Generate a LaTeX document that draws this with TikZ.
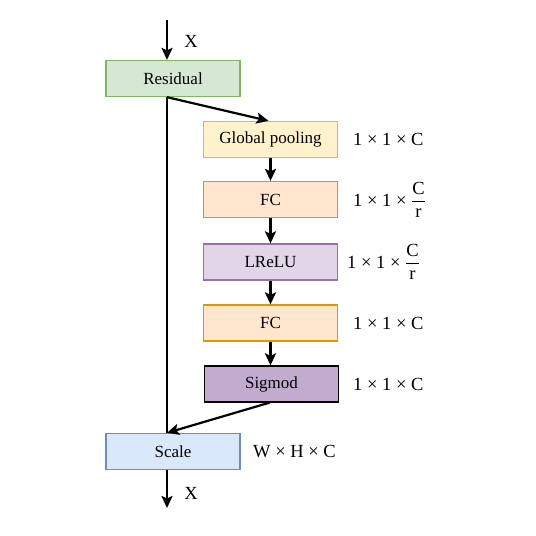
\documentclass[tikz,border=0pt]{standalone}
\usepackage{amsmath}
\usepackage{fontspec}
\setmainfont{Liberation Serif}
\usetikzlibrary{arrows.meta}
\definecolor{gfill}{HTML}{D5E8D4}\definecolor{gdraw}{HTML}{82B366}
\definecolor{yfill}{HTML}{FFF2CC}\definecolor{ydraw}{HTML}{D6B656}
\definecolor{ofill}{HTML}{FFE6CC}\definecolor{odraw}{HTML}{D79B00}
\definecolor{pfill}{HTML}{E1D5E7}\definecolor{pdraw}{HTML}{9673A6}
\definecolor{sfill}{HTML}{C3ABD0}
\definecolor{bfill}{HTML}{DAE8FC}\definecolor{bdraw}{HTML}{6C8EBF}
\newcommand{\myfrac}{$\dfrac{\text{C}}{\text{r}}$}
\begin{document}
\begin{tikzpicture}[x=1pt,y=-1pt,
  box/.style={draw,line width=1.3pt,minimum width=134pt,minimum height=36pt,inner sep=0pt,font=\fontsize{17}{19}\selectfont},
  lab/.style={font=\fontsize{18.5}{21}\selectfont,inner sep=0pt},
  arr/.style={line width=2.2pt,-{Stealth[length=12pt,width=11pt,inset=2.5pt]}},
  ln/.style={line width=2.2pt}]
\useasboundingbox (0,0) rectangle (536,536);
\node[box,fill=gfill,draw=gdraw] (res) at (173,78.5) {Residual};
\node[box,fill=yfill,draw=ydraw] (gp) at (270.5,139.5) {Global pooling};
\node[box,fill=ofill,draw=odraw] (fc1) at (270.5,199.5) {FC};
\node[box,fill=pfill,draw=pdraw] (lr) at (270.5,262) {LReLU};
\node[box,fill=ofill,draw=odraw] (fc2) at (270.5,323) {FC};
\node[box,fill=sfill,draw=black] (sig) at (271.5,384) {Sigmod};
\node[box,fill=bfill,draw=bdraw] (sc) at (173,451.5) {Scale};
\coordinate (in) at (167,20);
\coordinate (out) at (167,508);
\node[lab] (x1) at (191,41) {X};
\node[lab] (x2) at (191,493) {X};
\node[lab,anchor=west] (l1) at (353,139.5) {1 × 1 × C};
\node[lab,anchor=west] (l2) at (353,200) {1 × 1 × \myfrac};
\node[lab,anchor=west] (l3) at (347,262) {1 × 1 × \myfrac};
\node[lab,anchor=west] (l4) at (353,323) {1 × 1 × C};
\node[lab,anchor=west] (l5) at (353,384) {1 × 1 × C};
\node[lab,anchor=west] (l6) at (253,451.5) {W × H × C};
\draw[arr] (in) -- (in |- res.north);
\draw[ln] (res.south -| in) -- (sc.north -| in);
\draw[arr] (res.south -| in) -- ([xshift=-2pt]gp.north);
\draw[arr] (gp.south) -- (fc1.north);
\draw[arr] (fc1.south) -- (lr.north);
\draw[arr] (lr.south) -- (fc2.north);
\draw[arr] (fc2.south) -- (fc2.south |- sig.north);
\draw[arr] ([xshift=-2pt]sig.south) -- (sc.north -| in);
\draw[arr] (sc.south -| in) -- (out);
\end{tikzpicture}
\end{document}
